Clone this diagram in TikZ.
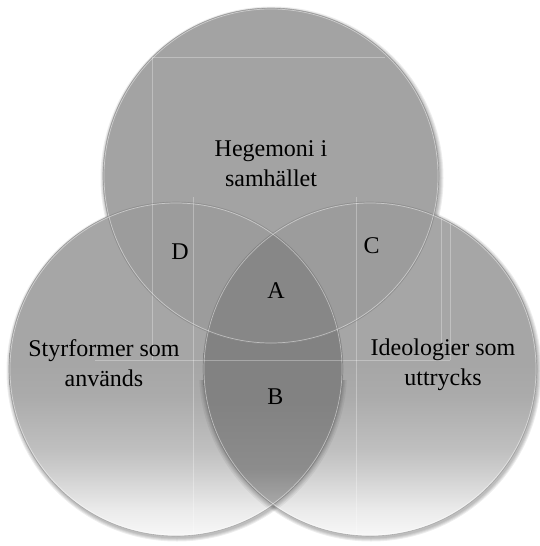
\documentclass[tikz,border=0pt]{standalone}
\usepackage{fontspec}
\setmainfont{Liberation Serif}
\definecolor{topgray}{gray}{0.64}
\definecolor{pairgray}{gray}{0.61}
\definecolor{triplegray}{gray}{0.53}
\pgfdeclareverticalshading{vennshade}{100bp}{color(0bp)=(black!3); color(25bp)=(black!3); color(29bp)=(black!8); color(32bp)=(black!14); color(35bp)=(black!20); color(38bp)=(black!25); color(42bp)=(black!29); color(46bp)=(black!33); color(51bp)=(black!35); color(100bp)=(black!35)}
\pgfdeclareverticalshading{lensshade}{100bp}{color(0bp)=(black!30); color(29bp)=(black!32); color(32bp)=(black!39); color(35bp)=(black!45); color(45bp)=(black!49); color(100bp)=(black!49)}
\begin{document}
\begin{tikzpicture}[x=1pt,y=-1pt,
  venntext/.style={font=\fontsize{24}{30}\selectfont, align=center, inner sep=0pt, text=black},
  vennletter/.style={font=\fontsize{24}{30}\selectfont, inner sep=0pt, anchor=base, text=black},
  shadowring/.style={fill=black, fill opacity=0.07},
  innershadow/.style={fill=black, fill opacity=0.05},
  rim/.style={draw=black!50, draw opacity=0.55, line width=0.6pt},
  hilite/.style={draw=white, draw opacity=0.45, line width=0.7pt},
  ghost/.style={draw=white, draw opacity=0.3, line width=0.5pt},
  ]
\useasboundingbox (0,0) rectangle (540,546);
\fill[white] (0,0) rectangle (540,546);
\coordinate (ct) at (271,176);
\coordinate (cl) at (176,369);
\coordinate (cr) at (370,369);
% soft shadows, only outside the circles
\begin{scope}[even odd rule]
  \clip (-10,-10) rectangle (550,556) (ct) circle (168);
  \clip (-10,-10) rectangle (550,556) (cl) circle (167);
  \clip (-10,-10) rectangle (550,556) (cr) circle (167);
  \foreach \e in {0.5,1.5,2.5,3.5}{
    \fill[shadowring] ([xshift=1pt,yshift=-2pt]ct) circle (168+\e);
    \fill[shadowring] ([xshift=1pt,yshift=-2pt]cl) circle (167+\e);
    \fill[shadowring] ([xshift=1pt,yshift=-2pt]cr) circle (167+\e);
  }
\end{scope}
% lower circles
\path[shading=vennshade, shade] (cl) circle (167);
\path[shading=vennshade, shade] (cr) circle (167);
% top circle
\fill[topgray] (ct) circle (168);
% lens B (left and right)
\begin{scope}
  \clip (cr) circle (167);
  \path[shading=lensshade, shade] (cl) circle (167);
\end{scope}
% D and C
\begin{scope}
  \clip (cl) circle (167);
  \fill[pairgray] (ct) circle (168);
\end{scope}
\begin{scope}
  \clip (cr) circle (167);
  \fill[pairgray] (ct) circle (168);
\end{scope}
% A
\begin{scope}
  \clip (cl) circle (167);
  \clip (cr) circle (167);
  \fill[triplegray] (ct) circle (168);
\end{scope}
% shadows of the lower circles on each other
\begin{scope}[even odd rule]
  \clip (0,380) rectangle (540,546);
  \clip (cl) circle (167);
  \clip (-10,-10) rectangle (550,556) (cr) circle (167);
  \foreach \e in {0.5,1.5,2.5,3.5,5}{
    \fill[innershadow] ([xshift=1pt,yshift=-2pt]cr) circle (167+\e);
  }
\end{scope}
\begin{scope}[even odd rule]
  \clip (0,380) rectangle (540,546);
  \clip (cr) circle (167);
  \clip (-10,-10) rectangle (550,556) (cl) circle (167);
  \foreach \e in {0.5,1.5,2.5,3.5,5}{
    \fill[innershadow] ([xshift=-1pt,yshift=-2pt]cl) circle (167+\e);
  }
\end{scope}
% faint guide lines inside the circles
\begin{scope}
  \clip (ct) circle (168) (cl) circle (167) (cr) circle (167);
  \draw[ghost] (152,57) -- (385,57);
  \draw[ghost] (152,57) -- (152,360);
  \draw[ghost] (95,360) -- (450,360);
  \draw[ghost] (450,190) -- (450,360);
  \draw[ghost] (441,190) -- (441,360);
  \draw[ghost] (193,197) -- (193,546);
  \draw[ghost] (356,197) -- (356,546);
\end{scope}
% rims
\draw[rim] (ct) circle (168);
\draw[rim] (cl) circle (167);
\draw[rim] (cr) circle (167);
\draw[hilite] (ct) circle (167);
\draw[hilite] (cl) circle (166);
\draw[hilite] (cr) circle (166);
% texts
\node[venntext] (top) at (271,164) {Hegemoni i\\samhället};
\node[venntext] (left) at (104,363) {Styrformer som\\används};
\node[venntext] (right) at (443,365) {Ideologier som\\uttrycks};
\node[vennletter] (A) at (276,298) {A};
\node[vennletter] (B) at (275.5,404) {B};
\node[vennletter] (C) at (371.5,253) {C};
\node[vennletter] (D) at (180,259) {D};
\end{tikzpicture}
\end{document}
